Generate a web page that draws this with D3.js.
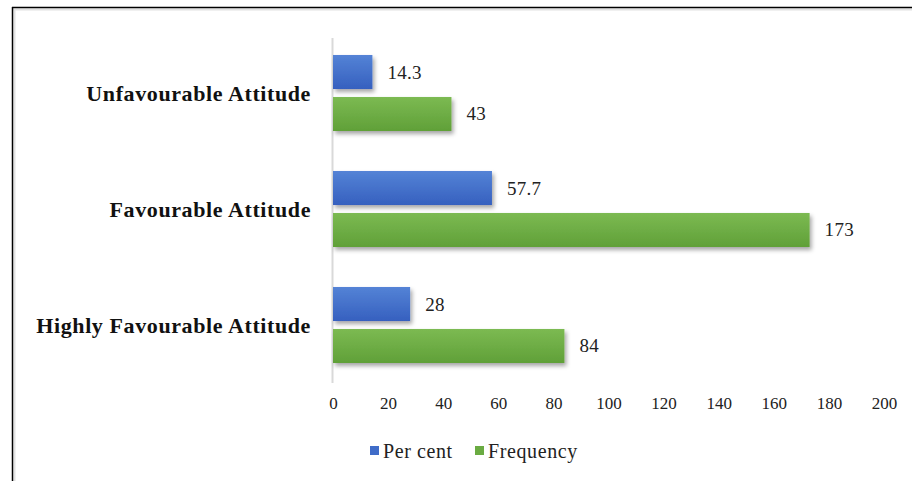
<!DOCTYPE html>
<html><head><meta charset="utf-8">
<script src="https://cdn.jsdelivr.net/npm/d3@7"></script>
<style>body{margin:0;background:#fff}svg{display:block}text{font-family:"Liberation Serif","Times New Roman",Times,"DejaVu Serif",serif}</style>
</head><body>
<svg id="c" width="912" height="481"></svg>
<script>
const categories = ["Unfavourable Attitude","Favourable Attitude","Highly Favourable Attitude"];
const seriesNames = ["Per cent","Frequency"];
const perCent = [14.3, 57.7, 28];
const frequency = [43, 173, 84];
const xTicks = [0,20,40,60,80,100,120,140,160,180,200];
const colors = ["#3f6cc8","#6aab42"];

const svg = d3.select("#c");
const defs = svg.append("defs");
const f = defs.append("filter").attr("id","sh").attr("x","-10%").attr("y","-30%").attr("width","130%").attr("height","180%");
f.append("feDropShadow").attr("dx",2).attr("dy",3).attr("stdDeviation",2).attr("flood-color","#000").attr("flood-opacity",0.35);
const grads = [["gb","#5483d6","#3660bf"],["gg","#7cba52","#60a038"]];
grads.forEach(([id,a,b])=>{
  const g = defs.append("linearGradient").attr("id",id).attr("x1",0).attr("y1",0).attr("x2",0).attr("y2",1);
  g.append("stop").attr("offset","0%").attr("stop-color",a);
  g.append("stop").attr("offset","100%").attr("stop-color",b);
});

// frame
svg.append("line").attr("x1",13).attr("x2",912).attr("y1",9.5).attr("y2",9.5).attr("stroke","#e2e2e2").attr("stroke-width",2);
svg.append("line").attr("x1",14.5).attr("x2",14.5).attr("y1",9).attr("y2",481).attr("stroke","#e2e2e2").attr("stroke-width",2);
svg.append("line").attr("x1",12).attr("x2",912).attr("y1",7.5).attr("y2",7.5).attr("stroke","#000").attr("stroke-width",1.5);
svg.append("line").attr("x1",12.5).attr("x2",12.5).attr("y1",7).attr("y2",481).attr("stroke","#000").attr("stroke-width",1.5);

const x = d3.scaleLinear().domain([0,200]).range([333,884]);
const y0 = d3.scaleBand().domain(categories).range([35,383]);
const y1 = d3.scaleBand().domain(seriesNames).range([0,y0.bandwidth()]).paddingInner(0.19).paddingOuter(0.476);

const data = categories.map((c,i)=>({cat:c, vals:[perCent[i], frequency[i]]}));

// axis line
svg.append("line").attr("x1",332.5).attr("x2",332.5).attr("y1",38).attr("y2",383).attr("stroke","#d9d9d9").attr("stroke-width",2);

const g = svg.selectAll("g.cat").data(data).join("g").attr("class","cat")
  .attr("transform",d=>`translate(0,${y0(d.cat)})`);
g.selectAll("rect").data(d=>d.vals.map((v,j)=>({v,s:seriesNames[j],j}))).join("rect")
  .attr("x",x(0)).attr("y",d=>y1(d.s)).attr("height",y1.bandwidth())
  .attr("width",d=>x(d.v)-x(0)).attr("fill",d=>`url(#${grads[d.j][0]})`).attr("filter","url(#sh)");
g.selectAll("text.v").data(d=>d.vals.map((v,j)=>({v,s:seriesNames[j]}))).join("text").attr("class","v")
  .attr("x",d=>x(d.v)+15).attr("y",d=>y1(d.s)+y1.bandwidth()/2+6.5)
  .attr("font-size",19).attr("letter-spacing",0.3).attr("fill","#222").text(d=>d.v);

// category labels
svg.selectAll("text.cat").data(categories).join("text").attr("class","cat")
  .attr("x",311).attr("y",d=>y0(d)+y0.bandwidth()/2+7.5)
  .attr("text-anchor","end")
  .attr("font-weight","bold").attr("font-size",22).attr("letter-spacing",0.6).attr("fill","#111").text(d=>d);

// x axis
const ax = svg.append("g").attr("transform","translate(0,383)")
  .call(d3.axisBottom(x).tickValues(xTicks).tickSize(0).tickPadding(14));
ax.select(".domain").remove();
ax.selectAll("text").attr("font-family",null).attr("font-size",17).attr("fill","#222");

// legend
const leg = svg.append("g");
const lx = [370, 475];
seriesNames.forEach((s,i)=>{
  leg.append("rect").attr("x",lx[i]).attr("y",446).attr("width",9).attr("height",9).attr("fill",colors[i]);
  leg.append("text").attr("x",lx[i]+13).attr("y",458).attr("font-size",20).attr("letter-spacing",0.6).attr("fill","#222").text(s);
});
</script>
</body></html>
